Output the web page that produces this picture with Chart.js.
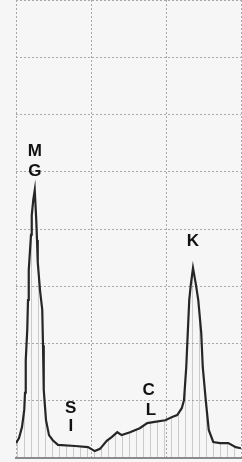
<!DOCTYPE html>
<html>
<head>
<meta charset="utf-8">
<script src="https://cdn.jsdelivr.net/npm/chart.js@4"></script>
<style>
  html, body { margin: 0; padding: 0; background: #f6f6f6; }
  #wrap { width: 242px; height: 462px; position: relative; }
</style>
</head>
<body>
<div id="wrap"><canvas id="myChart"></canvas></div>
<script>
// spectrum trace (channel, counts)
const canales = [0, 4, 8, 11, 12, 13, 15, 16, 17, 20, 21, 23, 25, 26, 27, 28, 29, 32, 35, 36, 37, 40, 44, 49, 56,
    79, 96, 105, 112, 121, 128, 135, 141, 152, 165, 175, 185, 199, 209, 215, 221, 224, 227, 229, 231, 233, 236,
    240, 243, 247, 249, 253, 257, 263, 272, 283, 293, 300];
const cuentas = [26, 35, 54, 84, 114, 171, 224, 276, 328, 390, 424, 451, 468, 442, 416, 381, 342, 293, 259, 197, 119, 66, 40, 31, 23,
    21, 19, 12, 16, 30, 37, 45, 40, 45, 52, 61, 63, 66, 72, 75, 87, 101, 159, 218, 276, 302, 332,
    302, 276, 218, 159, 101, 49, 28, 26, 26, 19, 17];

// element labels
const etiquetas = ['M', 'G', 'S', 'I', 'C', 'L', 'K'];
const etiquetaX = [25, 25, 73, 73, 177, 180, 236];
const etiquetaY = [536, 501, 87, 56, 119, 84, 379];

const puntos = canales.map((c, i) => ({ x: c, y: cuentas[i] }));

// vertical hatching under the trace
const pc = document.createElement('canvas');
pc.width = 7; pc.height = 8;
const pctx = pc.getContext('2d');
pctx.fillStyle = 'rgba(140,140,140,0.4)';
pctx.fillRect(3, 0, 1, 8);
const ctx = document.getElementById('myChart').getContext('2d');
const rayado = ctx.createPattern(pc, 'repeat');

const pluginEtiquetas = {
    id: 'etiquetas',
    afterDatasetsDraw(chart) {
        const c = chart.ctx;
        const sx = chart.scales.x, sy = chart.scales.y;
        c.save();
        c.fillStyle = '#111';
        c.font = 'bold 17px "Liberation Sans", Arial, sans-serif';
        c.textAlign = 'center';
        c.textBaseline = 'middle';
        etiquetas.forEach((t, i) => {
            c.fillText(t, sx.getPixelForValue(etiquetaX[i]), sy.getPixelForValue(etiquetaY[i]));
        });
        c.restore();
    }
};

const myChart = new Chart(ctx, {
    type: 'line',
    data: {
        datasets: [{
            data: puntos,
            borderColor: '#262626',
            borderWidth: 2.2,
            pointRadius: 0,
            tension: 0,
            fill: 'origin',
            backgroundColor: rayado
        }]
    },
    options: {
        responsive: true,
        maintainAspectRatio: false,
        animation: false,
        layout: { padding: { left: 16, right: 1, top: 0, bottom: 4 } },
        plugins: { legend: { display: false }, tooltip: { enabled: false } },
        scales: {
            x: {
                type: 'linear',
                min: 0,
                max: 300,
                ticks: { display: false, stepSize: 100 },
                grid: { color: '#a8a8a8', lineWidth: 1, drawTicks: false },
                border: { display: true, color: '#8a8a8a', width: 2, dash: [2, 2] }
            },
            y: {
                min: 0,
                max: 800,
                ticks: { display: false, stepSize: 100 },
                grid: { color: '#a8a8a8', lineWidth: 1, drawTicks: false },
                border: { display: false, dash: [2, 2] }
            }
        }
    },
    plugins: [pluginEtiquetas]
});
</script>
</body>
</html>
